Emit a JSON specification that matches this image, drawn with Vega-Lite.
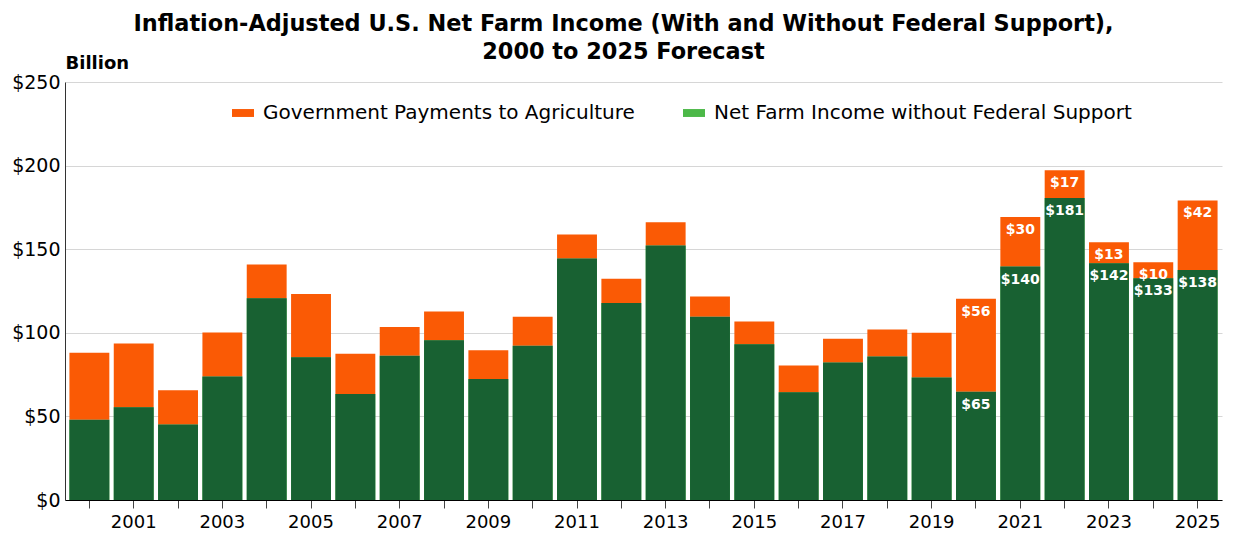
{
  "$schema": "https://vega.github.io/schema/vega-lite/v6.json",
  "width": 1157,
  "height": 418,
  "autosize": {"type": "none"},
  "padding": {"left": 65, "top": 82, "right": 16, "bottom": 33},
  "config": {"font": "DejaVu Sans", "view": {"stroke": null}},
  "title": {
    "text": ["Inflation-Adjusted U.S. Net Farm Income (With and Without Federal Support),", "2000 to 2025 Forecast"],
    "fontSize": 22.4,
    "fontWeight": "bold",
    "color": "#000000",
    "anchor": "middle",
    "dx": -20,
    "offset": -9,
    "lineHeight": 28
  },
  "data": {
    "values": [
      {"year": 2000, "series": "Net Farm Income without Federal Support", "value": 48.0},
      {"year": 2000, "series": "Government Payments to Agriculture", "value": 40.0},
      {"year": 2001, "series": "Net Farm Income without Federal Support", "value": 55.4},
      {"year": 2001, "series": "Government Payments to Agriculture", "value": 38.2},
      {"year": 2002, "series": "Net Farm Income without Federal Support", "value": 45.2},
      {"year": 2002, "series": "Government Payments to Agriculture", "value": 20.4},
      {"year": 2003, "series": "Net Farm Income without Federal Support", "value": 73.8},
      {"year": 2003, "series": "Government Payments to Agriculture", "value": 26.4},
      {"year": 2004, "series": "Net Farm Income without Federal Support", "value": 120.6},
      {"year": 2004, "series": "Government Payments to Agriculture", "value": 20.2},
      {"year": 2005, "series": "Net Farm Income without Federal Support", "value": 85.4},
      {"year": 2005, "series": "Government Payments to Agriculture", "value": 37.8},
      {"year": 2006, "series": "Net Farm Income without Federal Support", "value": 63.4},
      {"year": 2006, "series": "Government Payments to Agriculture", "value": 24.0},
      {"year": 2007, "series": "Net Farm Income without Federal Support", "value": 86.2},
      {"year": 2007, "series": "Government Payments to Agriculture", "value": 17.2},
      {"year": 2008, "series": "Net Farm Income without Federal Support", "value": 95.6},
      {"year": 2008, "series": "Government Payments to Agriculture", "value": 17.2},
      {"year": 2009, "series": "Net Farm Income without Federal Support", "value": 72.4},
      {"year": 2009, "series": "Government Payments to Agriculture", "value": 17.2},
      {"year": 2010, "series": "Net Farm Income without Federal Support", "value": 92.2},
      {"year": 2010, "series": "Government Payments to Agriculture", "value": 17.4},
      {"year": 2011, "series": "Net Farm Income without Federal Support", "value": 144.4},
      {"year": 2011, "series": "Government Payments to Agriculture", "value": 14.4},
      {"year": 2012, "series": "Net Farm Income without Federal Support", "value": 117.8},
      {"year": 2012, "series": "Government Payments to Agriculture", "value": 14.6},
      {"year": 2013, "series": "Net Farm Income without Federal Support", "value": 152.2},
      {"year": 2013, "series": "Government Payments to Agriculture", "value": 13.9},
      {"year": 2014, "series": "Net Farm Income without Federal Support", "value": 109.6},
      {"year": 2014, "series": "Government Payments to Agriculture", "value": 12.1},
      {"year": 2015, "series": "Net Farm Income without Federal Support", "value": 93.2},
      {"year": 2015, "series": "Government Payments to Agriculture", "value": 13.6},
      {"year": 2016, "series": "Net Farm Income without Federal Support", "value": 64.5},
      {"year": 2016, "series": "Government Payments to Agriculture", "value": 16.0},
      {"year": 2017, "series": "Net Farm Income without Federal Support", "value": 82.3},
      {"year": 2017, "series": "Government Payments to Agriculture", "value": 14.1},
      {"year": 2018, "series": "Net Farm Income without Federal Support", "value": 85.9},
      {"year": 2018, "series": "Government Payments to Agriculture", "value": 16.1},
      {"year": 2019, "series": "Net Farm Income without Federal Support", "value": 73.3},
      {"year": 2019, "series": "Government Payments to Agriculture", "value": 26.7},
      {"year": 2020, "series": "Net Farm Income without Federal Support", "value": 64.8},
      {"year": 2020, "series": "Government Payments to Agriculture", "value": 55.6},
      {"year": 2021, "series": "Net Farm Income without Federal Support", "value": 139.6},
      {"year": 2021, "series": "Government Payments to Agriculture", "value": 29.6},
      {"year": 2022, "series": "Net Farm Income without Federal Support", "value": 180.6},
      {"year": 2022, "series": "Government Payments to Agriculture", "value": 16.6},
      {"year": 2023, "series": "Net Farm Income without Federal Support", "value": 141.6},
      {"year": 2023, "series": "Government Payments to Agriculture", "value": 12.6},
      {"year": 2024, "series": "Net Farm Income without Federal Support", "value": 132.6},
      {"year": 2024, "series": "Government Payments to Agriculture", "value": 9.6},
      {"year": 2025, "series": "Net Farm Income without Federal Support", "value": 137.6},
      {"year": 2025, "series": "Government Payments to Agriculture", "value": 41.6}
    ]
  },
  "encoding": {
    "x": {
      "field": "year",
      "type": "ordinal",
      "scale": {"paddingInner": 0.1, "paddingOuter": 0.1},
      "axis": {
        "title": null,
        "labelAngle": 0,
        "labelExpr": "datum.value % 2 == 1 ? datum.label : ''",
        "labelFontSize": 18,
        "labelColor": "#000000",
        "tickSize": 8,
        "tickColor": "#444444",
        "domainColor": "#000000",
        "labelPadding": 5,
        "grid": false
      }
    },
    "y": {
      "field": "value",
      "type": "quantitative",
      "stack": "zero",
      "scale": {"domain": [0, 250]},
      "axis": {
        "title": "Billion",
        "titleAngle": 0,
        "titleAlign": "left",
        "titleX": 0,
        "titleY": -14,
        "titleBaseline": "alphabetic",
        "titleFontSize": 18,
        "titleFontWeight": "bold",
        "titleColor": "#000000",
        "values": [0, 50, 100, 150, 200, 250],
        "format": "$.0f",
        "labelFontSize": 19,
        "labelColor": "#000000",
        "tickSize": 0,
        "labelPadding": 5,
        "domainColor": "#333333",
        "gridColor": "#d6d6d6"
      }
    },
    "order": {"field": "series", "sort": "descending"}
  },
  "layer": [
    {
      "mark": {"type": "bar"},
      "encoding": {
        "fill": {
          "field": "series",
          "type": "nominal",
          "scale": {"domain": ["Government Payments to Agriculture", "Net Farm Income without Federal Support"], "range": ["#fa5a05", "#4cb848"]},
          "legend": {
            "title": null,
            "orient": "none",
            "legendX": 167,
            "legendY": 20,
            "direction": "horizontal",
            "symbolType": "M-1,-0.36H1V0.36H-1Z",
            "symbolSize": 484,
            "symbolStrokeWidth": 0,
            "labelFontSize": 20,
            "labelLimit": 0,
            "labelColor": "#000000",
            "labelOffset": 9,
            "columnPadding": 48,
            "padding": 0
          }
        }
      }
    },
    {
      "transform": [{"filter": "datum.series === 'Net Farm Income without Federal Support'"}],
      "mark": {"type": "bar", "fill": "#186132"},
      "encoding": {}
    },
    {
      "transform": [{"filter": "datum.year >= 2020"}],
      "mark": {"type": "text", "baseline": "top", "dy": 6, "color": "#ffffff", "fontWeight": "bold", "fontSize": 14},
      "encoding": {
        "text": {"field": "value", "type": "quantitative", "format": "$.0f"},
        "detail": {"field": "series"}
      }
    }
  ]
}
